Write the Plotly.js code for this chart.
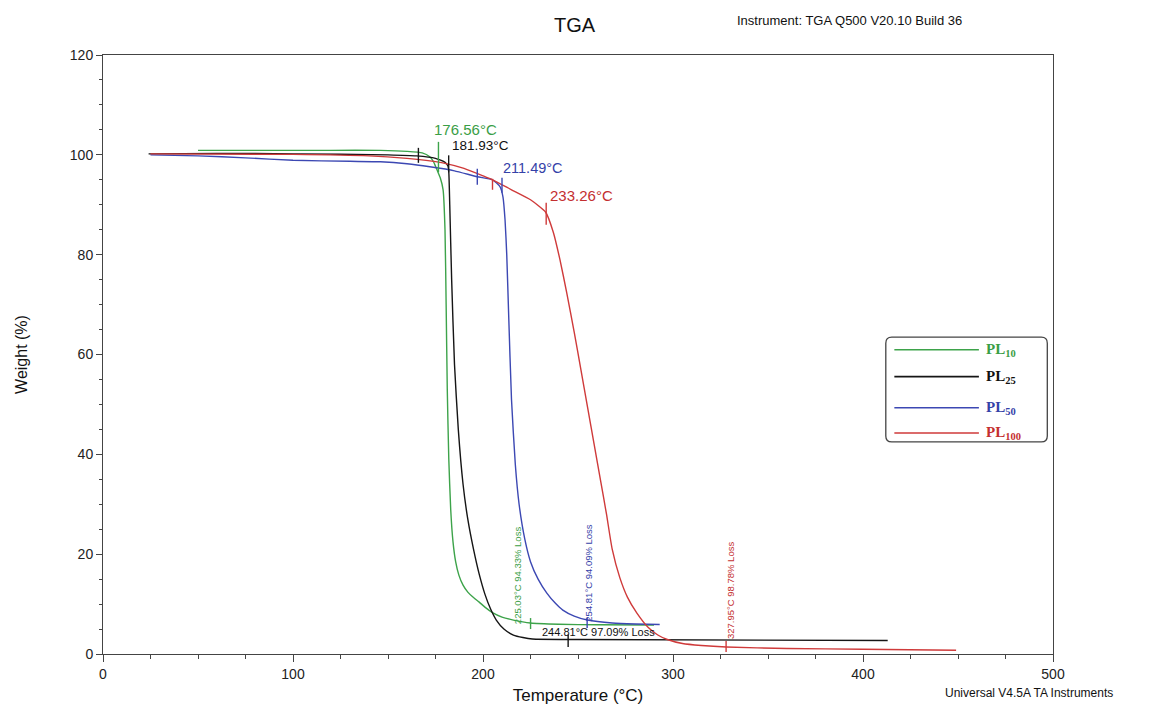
<!DOCTYPE html>
<html>
<head>
<meta charset="utf-8">
<script src="https://cdn.plot.ly/plotly-3.0.1.min.js"></script>
<style>html,body{margin:0;padding:0;background:#fff;}#chart{width:1160px;height:708px;}</style>
</head>
<body>
<div id="chart"></div>
<script>
// ---- data ----
const seriesNames = ['PL10', 'PL25', 'PL50', 'PL100'];
const seriesLabels = ['PL<sub>10</sub>', 'PL<sub>25</sub>', 'PL<sub>50</sub>', 'PL<sub>100</sub>'];

const pl10T = [50, 80, 120, 146, 160, 168, 172, 174, 176, 177.5, 179, 180, 180.6, 181.2, 182, 183, 184.2, 185.6, 187.3, 189.5, 192, 195, 198, 201, 205, 210, 216, 225, 240, 260, 290];
const pl10W = [100.9, 100.9, 100.9, 100.9, 100.7, 100.4, 99.6, 98.6, 96.8, 95.4, 93, 85, 70, 53, 39, 29, 22.5, 18.5, 15.8, 13.8, 12.4, 11.3, 10.4, 9.4, 8.3, 7.4, 6.8, 6.2, 5.95, 5.85, 5.8];

const pl25T = [24, 60, 100, 150, 165, 175, 180, 181.5, 182, 182.5, 183.5, 185, 187, 189.5, 192, 195, 198, 201, 204, 207, 211, 216, 221, 226, 250, 413];
const pl25W = [100.2, 100.3, 100.2, 100.0, 99.8, 99.3, 98.5, 97.8, 96.5, 90, 75, 58, 45, 34, 27, 21, 16, 12, 9, 6.8, 5, 3.8, 3.3, 3.0, 2.9, 2.7];

const pl50T = [25, 50, 75, 100, 130, 146, 160, 172, 185, 197, 205, 209, 210.5, 211.6, 212.5, 213.5, 215, 217, 219, 222, 225, 229, 233.6, 238, 242, 248, 255, 268, 280, 293];
const pl50W = [100.0, 99.8, 99.4, 98.9, 98.7, 98.6, 98.2, 97.6, 96.8, 95.6, 95.0, 93.6, 91.6, 87, 80, 68, 51, 38, 30, 23, 18.5, 15, 12.2, 10.2, 8.8, 7.6, 6.8, 6.2, 6.0, 5.9];

const pl100T = [25, 100, 140, 160, 170, 180, 190, 200, 205, 215, 225, 233, 237, 240.5, 244, 248, 251.5, 255, 258.5, 262, 265, 268, 272, 276, 281, 287, 292, 297, 305, 315, 328, 360, 400, 449];
const pl100W = [100.2, 100.1, 99.8, 99.3, 98.9, 98.3, 97.3, 95.8, 95.0, 93.0, 91.0, 88.5, 84.5, 79, 72.5, 64.5, 57, 49.5, 42, 34.5, 28, 21, 15.3, 11.4, 8.2, 5.3, 3.8, 2.9, 2.1, 1.7, 1.4, 1.1, 0.95, 0.75];

// onset temperatures and residue (loss) analysis values
const onsetT = [176.56, 181.93, 211.49, 233.26];
const lossT = [225.03, 244.81, 254.81, 327.95];
const lossPct = [94.33, 97.09, 94.09, 98.78];

// small analysis tick marks on the curves: series index, T, W from, W to
const tickSeries = [0, 1, 1, 2, 2, 3, 3, 0, 1, 2, 3];
const tickT =      [176.56, 166, 181.93, 197, 210, 205, 233.26, 225.03, 244.81, 254.81, 327.95];
const tickW0 =     [96.5, 98.4, 96.5, 94.0, 92.4, 93.0, 86.0, 5.0, 1.4, 5.2, 0.4];
const tickW1 =     [102.6, 101.4, 99.9, 97.2, 95.4, 95.2, 90.4, 7.2, 3.9, 7.2, 2.6];

// ---- styles ----
const colors = ['#3da34a', '#151515', '#3c48b3', '#cf3a3a'];
const textColors = ['#3a9e46', '#111111', '#3441a8', '#c42f30'];

const seriesT = [pl10T, pl25T, pl50T, pl100T];
const seriesW = [pl10W, pl25W, pl50W, pl100W];

const traces = [];
for (let i = 0; i < seriesNames.length; i++) {
  traces.push({
    x: seriesT[i], y: seriesW[i], type: 'scatter', mode: 'lines',
    name: seriesNames[i], showlegend: false,
    line: {color: colors[i], width: 1.4, shape: 'spline', smoothing: 0.5}
  });
}
for (let k = 0; k < tickT.length; k++) {
  traces.push({
    x: [tickT[k], tickT[k]], y: [tickW0[k], tickW1[k]], type: 'scatter', mode: 'lines',
    showlegend: false, hoverinfo: 'skip',
    line: {color: colors[tickSeries[k]], width: 1.4}
  });
}

const sans = 'Liberation Sans, Arial, sans-serif';
const annotations = [];
// onset labels
const onsetPos = [[173.2, 105.0, 15], [182.6, 101.8, 13.5], [209.5, 97.4, 14.5], [234.2, 91.8, 15]];
for (let i = 0; i < onsetT.length; i++) {
  annotations.push({
    x: onsetPos[i][0], y: onsetPos[i][1], xref: 'x', yref: 'y', xanchor: 'left', yanchor: 'middle',
    text: onsetT[i].toFixed(2) + '°C', showarrow: false,
    font: {family: sans, size: onsetPos[i][2], color: textColors[i]}
  });
}
// loss labels
const lossPos = [[217.9, 15.8, -90], [230.0, 4.4, 0], [255.8, 16.3, -90], [330.0, 12.8, -90]];
for (let i = 0; i < lossT.length; i++) {
  const horiz = lossPos[i][2] === 0;
  annotations.push({
    x: lossPos[i][0], y: lossPos[i][1], xref: 'x', yref: 'y',
    xanchor: horiz ? 'left' : 'center', yanchor: 'middle',
    text: lossT[i].toFixed(2) + '°C ' + lossPct[i].toFixed(2) + '% Loss', showarrow: false,
    textangle: lossPos[i][2],
    font: {family: sans, size: horiz ? 11 : 9.5, color: textColors[i]}
  });
}
// header / footer texts
annotations.push({x: 0.497, y: 1.05, xref: 'paper', yref: 'paper', text: 'TGA', showarrow: false,
  xanchor: 'center', yanchor: 'middle', font: {family: sans, size: 20, color: '#111'}});
annotations.push({x: 0.665, y: 1.058, xref: 'paper', yref: 'paper', text: 'Instrument: TGA Q500 V20.10 Build 36', showarrow: false,
  xanchor: 'left', yanchor: 'middle', font: {family: sans, size: 13, color: '#111'}});
annotations.push({x: 0.884, y: -0.065, xref: 'paper', yref: 'paper', text: 'Universal V4.5A TA Instruments', showarrow: false,
  xanchor: 'left', yanchor: 'middle', font: {family: sans, size: 12, color: '#111'}});

// custom legend (box + long line samples + coloured serif labels)
const shapes = [];
const lx0 = 0.824, lx1 = 0.994, ly0 = 0.354, ly1 = 0.529;
const rx = 6 / 950, ry = 6 / 599;
shapes.push({
  type: 'path', xref: 'paper', yref: 'paper',
  path: `M${lx0 + rx},${ly1} L${lx1 - rx},${ly1} Q${lx1},${ly1} ${lx1},${ly1 - ry} L${lx1},${ly0 + ry} Q${lx1},${ly0} ${lx1 - rx},${ly0} L${lx0 + rx},${ly0} Q${lx0},${ly0} ${lx0},${ly0 + ry} L${lx0},${ly1 - ry} Q${lx0},${ly1} ${lx0 + rx},${ly1} Z`,
  line: {color: '#444', width: 1.3}, fillcolor: 'rgba(255,255,255,1)'
});
const legY = [0.508, 0.463, 0.411, 0.369];
for (let i = 0; i < seriesNames.length; i++) {
  shapes.push({type: 'line', xref: 'paper', yref: 'paper', x0: 0.833, x1: 0.922, y0: legY[i], y1: legY[i],
    line: {color: colors[i], width: 1.6}});
  annotations.push({x: 0.927, y: legY[i], xref: 'paper', yref: 'paper', xanchor: 'left', yanchor: 'middle',
    text: '<b>' + seriesLabels[i] + '</b>', showarrow: false,
    font: {family: 'Liberation Serif, Times New Roman, serif', size: 15, color: textColors[i]}});
}

const axisCommon = {
  showline: true, mirror: true, linecolor: '#444', linewidth: 1,
  ticks: 'outside', tickcolor: '#444', tickwidth: 1, showgrid: false, zeroline: false,
  tickfont: {family: sans, size: 14, color: '#222'}
};

const layout = {
  width: 1160, height: 708,
  margin: {l: 103, r: 107, t: 55, b: 54},
  paper_bgcolor: '#fff', plot_bgcolor: '#fff',
  showlegend: false,
  xaxis: Object.assign({}, axisCommon, {
    range: [0, 500], dtick: 100, tick0: 0, ticklen: 7,
    minor: {dtick: 25, ticks: 'outside', ticklen: 4, tickcolor: '#444'},
    title: {text: 'Temperature (°C)', font: {family: sans, size: 17, color: '#111'}, standoff: 8}
  }),
  yaxis: Object.assign({}, axisCommon, {
    range: [0, 120], dtick: 20, tick0: 0, ticklen: 6,
    minor: {dtick: 5, ticks: 'outside', ticklen: 3, tickcolor: '#444'},
    title: {text: 'Weight (%)', font: {family: sans, size: 16, color: '#111'}, standoff: 38}
  }),
  annotations: annotations,
  shapes: shapes
};

Plotly.newPlot('chart', traces, layout, {displayModeBar: false, staticPlot: true});
</script>
</body>
</html>
